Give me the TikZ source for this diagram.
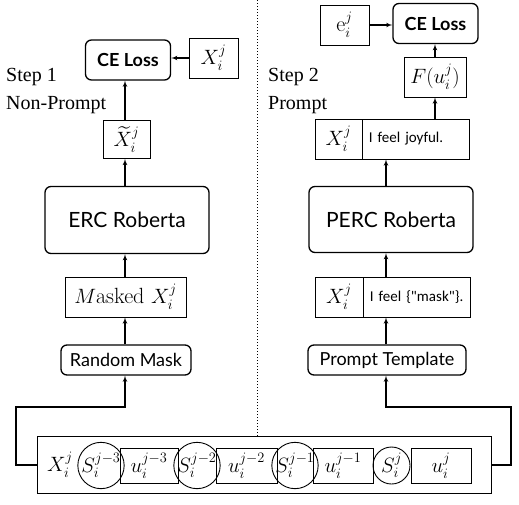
\documentclass[tikz,border=0pt]{standalone}
\usepackage{amsmath,amssymb}
\usepackage{fontspec}
\setsansfont{Lato}
\newfontfamily\calfont{Carlito}[Ligatures=TeXOff]
\newfontfamily\stepfont{Liberation Serif}
\usepackage{tikz}
\usetikzlibrary{shapes,arrows,positioning,calc}

\begin{document}
\begin{tikzpicture}[x=1pt,y=-1pt,>=latex',
rbox/.style={draw,rounded corners=6pt,line width=1.3pt,inner sep=0pt,font=\sffamily\fontsize{18}{20}\selectfont},
lossbox/.style={rbox,minimum width=85pt,minimum height=40pt,font=\sffamily\bfseries\fontsize{18}{20}\selectfont},
sbox/.style={draw,line width=0.9pt,inner sep=0pt,font=\fontsize{22}{24}\selectfont},
txtbox/.style={sbox,minimum width=107pt,minimum height=40pt,inner xsep=6pt,text width=95pt,align=left,anchor=west,font=\calfont\fontsize{15}{17}\selectfont},
sc/.style={draw,circle,line width=0.9pt,inner sep=0pt,minimum size=37pt,font=\fontsize{20}{22}\selectfont},
steplbl/.style={anchor=north west,align=left,inner sep=0pt,font=\stepfont\fontsize{20}{28}\selectfont},
conn/.style={->,line width=1.1pt}]
\useasboundingbox (0,0) rectangle (519,504);
\coordinate (colA) at (125,0); \coordinate (colB) at (386,0);
% step 1
\node[lossbox](ceA) at (128,60){CE Loss};
\node[sbox,minimum width=49pt,minimum height=40pt](xA) at (213.5,58){$X_i^j$};
\node[sbox,minimum width=47pt,minimum height=38pt](xtil) at (126.5,139.5){$\widetilde{X}_i^j$};
\node[rbox,minimum width=164pt,minimum height=67pt,font=\sffamily\fontsize{21}{23}\selectfont](erc) at (127,220){ERC Roberta};
\node[sbox,minimum width=121pt,minimum height=40pt](mskd) at (125.5,297){$M$asked $X_i^j$};
\node[rbox,minimum width=130pt,minimum height=30pt](rmask) at (126,360){Random Mask};
\node[steplbl](stepA) at (6,68){Step 1\\Non-Prompt};
% step 2
\node[sbox,minimum width=49pt,minimum height=40pt](eB) at (344.5,25){$\mathrm{e}_i^j$};
\node[lossbox](ceB) at (435.5,23.5){CE Loss};
\node[sbox,minimum width=62pt,minimum height=40pt](fB) at (435,77){$F(u_i^j)$};
\node[sbox,minimum width=47pt,minimum height=40pt](xJoy) at (338.5,139){$X_i^j$};
\node[txtbox](joyTxt) at (xJoy.east){I feel joyful.};
\node[rbox,minimum width=164pt,minimum height=66pt,font=\sffamily\fontsize{21}{23}\selectfont](perc) at (391,219.5){PERC Roberta};
\node[sbox,minimum width=48pt,minimum height=40pt](xMsk) at (339,297){$X_i^j$};
\node[txtbox](mskTxt) at (xMsk.east){I feel \{"mask"\}.};
\node[rbox,minimum width=158pt,minimum height=30pt](ptmp) at (387,360){Prompt Template};
\node[steplbl](stepB) at (268,68){Step 2\\Prompt};
% divider
\coordinate (dTop) at (257,0); \coordinate (dBot) at (257,437);
\draw[dotted,line width=1pt](dTop)--(dBot);
% input sequence
\node[sbox,minimum width=454pt,minimum height=57pt](seq) at (264,465){};
\node[font=\fontsize{22}{24}\selectfont](xSeq) at (60,465){$X_i^j$};
\node[sc](s3) at (101,465.5){$S_i^{j-3}$};
\node[sbox,minimum width=58pt,minimum height=35pt](u3) at (149,465.5){$u_i^{j-3}$};
\node[sc](s2) at (197,465.5){$S_i^{j-2}$};
\node[sbox,minimum width=61pt,minimum height=35pt](u2) at (246.5,465.5){$u_i^{j-2}$};
\node[sc](s1) at (295,465.5){$S_i^{j-1}$};
\node[sbox,minimum width=60pt,minimum height=35pt](u1) at (343,465.5){$u_i^{j-1}$};
\node[sc](s0) at (391.5,465.5){$S_i^{j}$};
\node[sbox,minimum width=60pt,minimum height=35pt](u0) at (441,465.5){$u_i^{j}$};
\coordinate (lA) at (16,407); \coordinate (rB) at (511,407);
% arrows
\draw[conn](xA.west)--(ceA.east |- xA.west); \draw[conn](colA |- xtil.north)--(colA |- ceA.south);
\draw[conn](colA |- erc.north)--(colA |- xtil.south); \draw[conn](colA |- mskd.north)--(colA |- erc.south);
\draw[conn](colA |- rmask.north)--(colA |- mskd.south); \draw[conn](seq.west)-|(lA)-|(colA |- rmask.south);
\draw[conn](eB.east)--(ceB.west |- eB.east); \draw[conn](fB.north)--(fB.north |- ceB.south);
\draw[conn](fB.south |- joyTxt.north)--(fB.south); \draw[conn](colB |- perc.north)--(colB |- joyTxt.south);
\draw[conn](colB |- mskTxt.north)--(colB |- perc.south); \draw[conn](colB |- ptmp.north)--(colB |- mskTxt.south);
\draw[conn](seq.east)-|(rB)-|(colB |- ptmp.south);
\end{tikzpicture}
\end{document}
